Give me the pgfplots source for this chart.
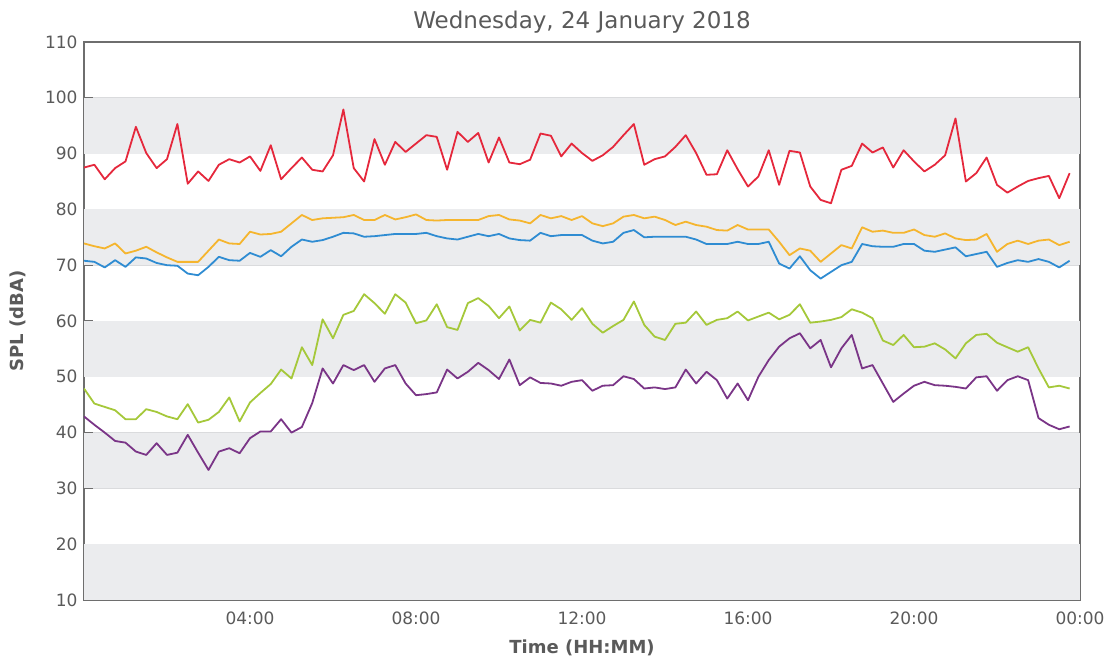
\documentclass[border=0pt]{standalone}
\usepackage{fontspec}
\setmainfont{DejaVu Sans}
\usepackage{pgfplots}
\usepackage{pgfplotstable}
\pgfplotsset{compat=1.18}
\definecolor{cred}{HTML}{E5283C}
\definecolor{cyel}{HTML}{F5B52E}
\definecolor{cblue}{HTML}{2F8CD2}
\definecolor{cgreen}{HTML}{A5C83A}
\definecolor{cpurp}{HTML}{7A3587}
\definecolor{band}{HTML}{EBECEE}
\definecolor{gridc}{HTML}{DADBDD}
\definecolor{axc}{HTML}{6E6E6E}
\definecolor{txc}{HTML}{5A5A5A}
\pgfplotstableread{
h red yel blue green purple
0 87.5 73.9 70.8 47.9 42.9
0.25 88.0 73.4 70.6 45.2 41.4
0.5 85.4 73.0 69.6 44.6 40.0
0.75 87.4 73.9 70.9 44.0 38.5
1 88.6 72.1 69.7 42.4 38.2
1.25 94.8 72.6 71.4 42.4 36.6
1.5 90.1 73.3 71.2 44.2 36.0
1.75 87.4 72.3 70.4 43.7 38.1
2 89.0 71.4 70.0 42.9 36.0
2.25 95.3 70.6 69.9 42.4 36.4
2.5 84.6 70.6 68.5 45.1 39.6
2.75 86.8 70.6 68.2 41.8 36.4
3 85.1 72.6 69.7 42.3 33.3
3.25 88.0 74.6 71.5 43.7 36.6
3.5 89.0 73.9 70.9 46.3 37.2
3.75 88.4 73.8 70.8 42.0 36.3
4 89.5 76.0 72.2 45.4 39.0
4.25 86.9 75.5 71.5 47.1 40.2
4.5 91.5 75.6 72.7 48.7 40.2
4.75 85.4 76.0 71.6 51.3 42.4
5 87.4 77.5 73.3 49.7 40.0
5.25 89.3 79.0 74.6 55.3 41.0
5.5 87.1 78.1 74.2 52.1 45.3
5.75 86.8 78.4 74.5 60.3 51.5
6 89.7 78.5 75.1 56.9 48.8
6.25 97.9 78.6 75.8 61.1 52.1
6.5 87.4 79.0 75.7 61.8 51.2
6.75 85.0 78.1 75.1 64.8 52.1
7 92.6 78.1 75.2 63.2 49.1
7.25 88.0 79.0 75.4 61.3 51.5
7.5 92.1 78.2 75.6 64.8 52.1
7.75 90.3 78.6 75.6 63.3 48.8
8 91.8 79.1 75.6 59.6 46.7
8.25 93.3 78.1 75.8 60.1 46.9
8.5 93.0 78.0 75.2 63.0 47.2
8.75 87.1 78.1 74.8 58.9 51.3
9 93.9 78.1 74.6 58.4 49.7
9.25 92.1 78.1 75.1 63.2 50.9
9.5 93.7 78.1 75.6 64.1 52.5
9.75 88.4 78.8 75.2 62.7 51.2
10 92.9 79.0 75.6 60.5 49.6
10.25 88.4 78.2 74.8 62.6 53.1
10.5 88.1 78.0 74.5 58.3 48.5
10.75 88.9 77.5 74.4 60.2 49.9
11 93.6 79.0 75.8 59.7 48.9
11.25 93.2 78.4 75.2 63.3 48.8
11.5 89.5 78.8 75.4 62.1 48.4
11.75 91.8 78.1 75.4 60.2 49.1
12 90.1 78.8 75.4 62.3 49.4
12.25 88.7 77.5 74.4 59.5 47.5
12.5 89.7 77.0 73.9 57.9 48.4
12.75 91.2 77.5 74.2 59.1 48.5
13 93.3 78.7 75.8 60.2 50.1
13.25 95.3 79.0 76.3 63.5 49.6
13.5 88.0 78.4 75.0 59.3 47.9
13.75 89.0 78.7 75.1 57.2 48.1
14 89.5 78.1 75.1 56.6 47.8
14.25 91.2 77.2 75.1 59.5 48.1
14.5 93.3 77.8 75.1 59.7 51.3
14.75 90.1 77.2 74.6 61.7 48.8
15 86.2 76.9 73.8 59.3 50.9
15.25 86.3 76.3 73.8 60.2 49.4
15.5 90.6 76.2 73.8 60.5 46.1
15.75 87.2 77.2 74.2 61.7 48.8
16 84.1 76.4 73.8 60.1 45.8
16.25 85.9 76.4 73.8 60.8 50.0
16.5 90.6 76.4 74.2 61.5 53.0
16.75 84.4 74.2 70.3 60.3 55.4
17 90.5 71.8 69.4 61.1 56.9
17.25 90.2 73.0 71.6 63.0 57.8
17.5 84.1 72.6 69.1 59.7 55.1
17.75 81.7 70.6 67.6 59.9 56.6
18 81.1 72.1 68.8 60.2 51.7
18.25 87.1 73.6 70.0 60.7 55.1
18.5 87.8 73.0 70.6 62.1 57.5
18.75 91.8 76.8 73.8 61.5 51.5
19 90.2 76.0 73.4 60.5 52.1
19.25 91.1 76.2 73.3 56.5 48.8
19.5 87.5 75.8 73.3 55.7 45.5
19.75 90.6 75.8 73.8 57.5 47.0
20 88.6 76.4 73.8 55.3 48.4
20.25 86.8 75.4 72.6 55.4 49.1
20.5 88.0 75.1 72.4 56.0 48.5
20.75 89.7 75.7 72.8 54.9 48.4
21 96.3 74.8 73.2 53.3 48.2
21.25 85.0 74.5 71.6 56.0 47.9
21.5 86.5 74.6 72.0 57.5 49.9
21.75 89.3 75.6 72.4 57.7 50.1
22 84.4 72.4 69.7 56.1 47.5
22.25 83.0 73.8 70.4 55.3 49.4
22.5 84.1 74.4 70.9 54.5 50.1
22.75 85.1 73.8 70.6 55.3 49.4
23 85.6 74.4 71.1 51.5 42.6
23.25 86.0 74.6 70.6 48.1 41.4
23.5 82.0 73.6 69.6 48.4 40.6
23.75 86.5 74.2 70.8 47.9 41.1
}\spl
\begin{document}
\begin{tikzpicture}
\begin{axis}[
  scale only axis, width=996pt, height=558pt,
  xmin=0, xmax=24, ymin=10, ymax=110,
  axis line style={axc, line width=1.6pt},
  xtick={4,8,12,16,20,24},
  xticklabels={04:00,08:00,12:00,16:00,20:00,00:00},
  ytick={10,20,...,110},
  tick align=inside, major tick length=9pt,
  tick style={axc, line width=1.2pt},
  xtick pos=bottom, ytick pos=left,
  ymajorgrids, grid style={gridc, line width=1pt},
  /pgf/number format/assume math mode=true,
  ticklabel style={font=\fontsize{17}{20}\selectfont, text=txc},
  yticklabel style={xshift=-3pt},
  xticklabel style={yshift=-8pt},
  title={Wednesday, 24 January 2018},
  title style={font=\fontsize{23}{26}\selectfont, text=txc, yshift=-1pt},
  xlabel={Time (HH:MM)},
  ylabel={SPL (dBA)},
  label style={font=\bfseries\fontsize{18}{21}\selectfont, text=txc},
  xlabel style={yshift=-9pt},
  ylabel style={yshift=12pt},
  clip=true,
  every axis plot/.append style={line width=1.8pt, line join=round},
]
\fill[band] (axis cs:0,90) rectangle (axis cs:24,100);
\fill[band] (axis cs:0,70) rectangle (axis cs:24,80);
\fill[band] (axis cs:0,50) rectangle (axis cs:24,60);
\fill[band] (axis cs:0,30) rectangle (axis cs:24,40);
\fill[band] (axis cs:0,10) rectangle (axis cs:24,20);
\addplot[cred] table[x=h,y=red] {\spl};
\addplot[cyel] table[x=h,y=yel] {\spl};
\addplot[cblue] table[x=h,y=blue] {\spl};
\addplot[cgreen] table[x=h,y=green] {\spl};
\addplot[cpurp] table[x=h,y=purple] {\spl};
\end{axis}
\path (current axis.south west) ++(-84pt,-62pt) coordinate (bl);
\path (bl) ++(1114pt,662pt) coordinate (tr);
\path[use as bounding box] (bl) rectangle (tr);
\end{tikzpicture}
\end{document}
